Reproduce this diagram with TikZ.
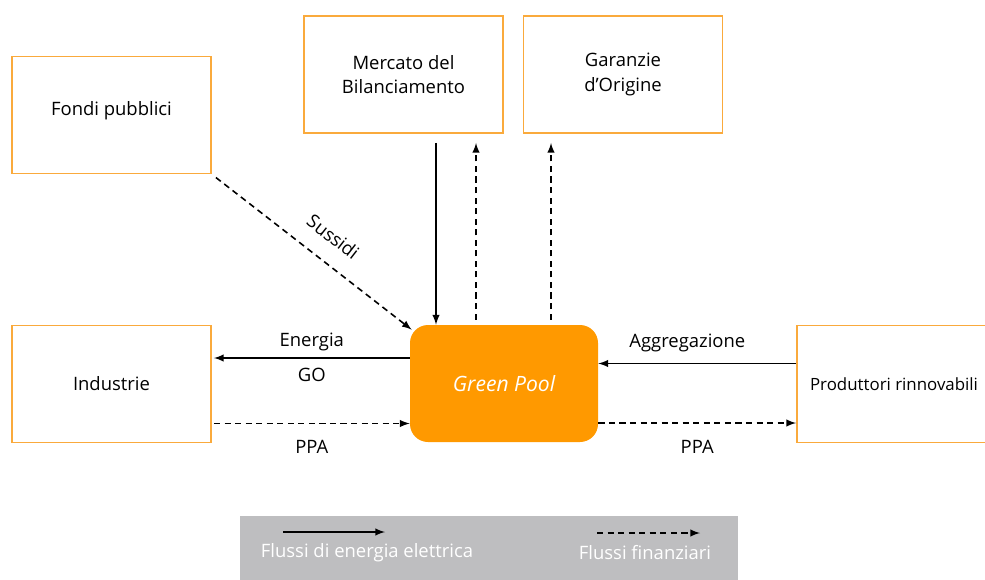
\documentclass[tikz,border=0pt]{standalone}
\usepackage{fontspec}
\setmainfont{Open Sans}
\usepackage{xcolor}
\usetikzlibrary{positioning,calc}
\tikzset{>=latex}
\definecolor{boxorange}{RGB}{250,170,60}
\definecolor{poolorange}{RGB}{255,153,0}
\definecolor{legendgray}{RGB}{190,190,192}
\tikzset{
	actor/.style={draw=boxorange,line width=1.1pt,fill=white,minimum width=3.98cm,minimum height=2.34cm,align=center,font=\fontsize{10.5}{14}\selectfont},
	pool/.style={fill=poolorange,rounded corners=0.36cm,minimum width=3.76cm,minimum height=2.34cm,text=white,font=\fontsize{12}{14}\selectfont\itshape},
	energy/.style={line width=0.9pt,->},
	money/.style={line width=0.9pt,->,dash pattern=on 3.5pt off 2.5pt},
	lbl/.style={font=\fontsize{10.5}{14}\selectfont}
}

\begin{document}
\begin{tikzpicture}
		\useasboundingbox (0,0) rectangle (19.7,-11.58);
		% actors
		\node[actor,text depth=0.26cm] (fondi) at (2.23,-2.30) {Fondi pubblici};
		\node[actor] (mercato) at (8.07,-1.49) {Mercato del\\Bilanciamento};
		\node[actor] (garanzie) at (12.46,-1.49) {Garanzie\\d'Origine};
		\node[actor] (industrie) at (2.23,-7.68) {Industrie};
		\node[actor,font=\fontsize{9.6}{14}\selectfont] (produttori) at (17.93,-7.68) {\hspace*{-0.1cm}Produttori rinnovabili};
		\node[pool] (gp) at (10.08,-7.67) {Green Pool};
		% vertical flows
		\path (mercato.south) ++(0.65,-0.18) coordinate (m1);
		\path (mercato.south) ++(1.45,-0.18) coordinate (m2);
		\path (garanzie.south) ++(-1.44,-0.18) coordinate (g1);
		\draw[energy] (m1) -- (m1 |- gp.north);
		\draw[money] ([yshift=0.1cm]m2 |- gp.north) -- (m2);
		\draw[money] ([yshift=0.1cm]g1 |- gp.north) -- (g1);
		% Sussidi
		\draw[money,shorten <=0.1cm] (fondi.south east) -- ([shift={(0.04,-0.1)}]gp.north west)
			node[lbl,pos=0.53,sloped,above=6.5pt] {Sussidi};
		% Industrie
		\draw[energy] ([yshift=0.51cm]gp.west) -- ([yshift=0.51cm,xshift=0.04cm]gp.west -| industrie.east)
			node[lbl,midway,above] {Energia} node[lbl,midway,below=2pt] {GO};
		\draw[money] ([yshift=-0.79cm,xshift=0.04cm]industrie.east) -- ([yshift=-0.79cm]industrie.east -| gp.west)
			node[lbl,midway,below=6pt] {PPA};
		% Produttori
		\draw[energy] ([yshift=0.41cm]produttori.west) -- ([yshift=0.41cm]produttori.west -| gp.east)
			node[lbl,pos=0.55,above=3pt] {Aggregazione};
		\draw[money] ([yshift=-0.79cm]gp.east) -- ([yshift=-0.79cm]gp.east -| produttori.west)
			node[lbl,pos=0.5,below=6pt] {PPA};
		% legend
		\fill[legendgray] (4.8,-10.32) rectangle (14.76,-11.8);
		\coordinate (la) at (5.66,-10.64);
		\coordinate (lb) at (7.70,-10.64);
		\coordinate (lc) at (11.94,-10.66);
		\coordinate (ld) at (14.0,-10.66);
		\draw[energy] (la) -- (lb);
		\draw[money] (lc) -- (ld);
		\node[lbl,text=white] (lenergy) at (7.34,-11.06) {Flussi di energia elettrica};
		\node[lbl,text=white] (lmoney) at (12.9,-11.06) {Flussi finanziari};
\end{tikzpicture}
\end{document}
